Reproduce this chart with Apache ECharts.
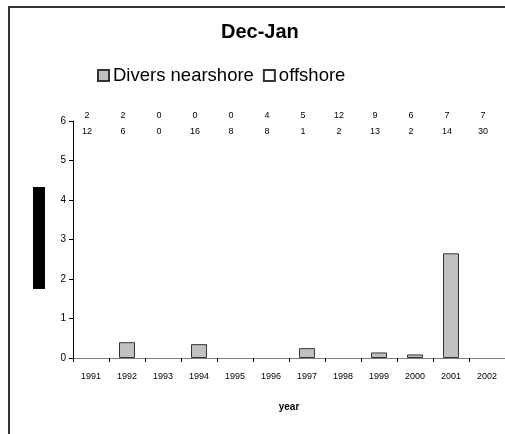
<!DOCTYPE html>
<html>
<head>
<meta charset="utf-8">
<script src="https://cdn.jsdelivr.net/npm/echarts@6/dist/echarts.min.js"></script>
<style>
html,body{margin:0;padding:0;background:#fff;}
#chart{width:505px;height:434px;}
</style>
</head>
<body>
<div id="chart"></div>
<script>
const years = ['1991','1992','1993','1994','1995','1996','1997','1998','1999','2000','2001','2002'];
const nearshore = [0, 0.40, 0, 0.35, 0, 0, 0.25, 0, 0.14, 0.09, 2.65, 0];
const offshore = [0, 0, 0, 0, 0, 0, 0, 0, 0, 0, 0, 0];
const countsRow1 = [2, 2, 0, 0, 0, 4, 5, 12, 9, 6, 7, 7];
const countsRow2 = [12, 6, 0, 16, 8, 8, 1, 2, 13, 2, 14, 30];
const yTicks = [0, 1, 2, 3, 4, 5, 6];

// zero-height bars are not drawn in the reference
const hideZero = arr => arr.map(v => (v === 0 ? '-' : v));

const FONT = '"Liberation Sans", Arial, sans-serif';
const chart = echarts.init(document.getElementById('chart'), null, {renderer: 'canvas'});

chart.setOption({
  animation: false,
  backgroundColor: '#fff',
  textStyle: {fontFamily: FONT, color: '#000'},
  title: {
    text: 'Dec-Jan',
    left: 221, top: 22, padding: 0,
    textStyle: {fontFamily: FONT, fontSize: 20, fontWeight: 'bold', color: '#000'}
  },
  legend: {
    left: 97, top: 66, padding: 0,
    itemWidth: 11, itemHeight: 11, itemGap: 9,
    icon: 'rect',
    textStyle: {fontFamily: FONT, fontSize: 18.5, color: '#000', padding: [0, 0, 0, -1]},
    data: ['Divers nearshore', 'offshore']
  },
  graphic: [
    {type: 'rect', shape: {x: 9, y: 7, width: 700, height: 700},
     style: {fill: 'none', stroke: '#333', lineWidth: 2}, silent: true},
    {type: 'rect', shape: {x: 33, y: 187, width: 12, height: 102},
     style: {fill: '#000'}, silent: true}
  ],
  grid: {left: 73, top: 121, width: 436, height: 237, containLabel: false},
  xAxis: [
    {
      type: 'category', data: years, position: 'bottom',
      boundaryGap: true,
      axisLine: {lineStyle: {color: '#808080', width: 1}},
      axisTick: {show: true, length: 4, inside: false, alignWithLabel: false, lineStyle: {color: '#000'}},
      axisLabel: {fontFamily: FONT, fontSize: 9, color: '#000', margin: 14, interval: 0},
      name: 'year', nameLocation: 'middle', nameGap: 44,
      nameTextStyle: {fontFamily: FONT, fontSize: 10, fontWeight: 'bold', color: '#000'}
    },
    {
      type: 'category', data: years, position: 'top', offset: -19,
      axisLine: {show: false}, axisTick: {show: false},
      axisLabel: {
        interval: 0, margin: 0,
        fontFamily: FONT, fontSize: 9, color: '#000', lineHeight: 16,
        formatter: function (v, i) { return countsRow1[i] + '\n' + countsRow2[i]; },
        padding: [0, 8, 0, 0]
      }
    }
  ],
  yAxis: {
    type: 'value', min: yTicks[0], max: yTicks[yTicks.length - 1], interval: 1,
    splitLine: {show: false},
    axisLine: {show: true, lineStyle: {color: '#000', width: 1}},
    axisTick: {show: true, length: 4, lineStyle: {color: '#000'}},
    axisLabel: {fontFamily: FONT, fontSize: 10, color: '#000', margin: 7}
  },
  series: [
    {
      name: 'Divers nearshore', type: 'bar', data: hideZero(nearshore), stack: 'a',
      barWidth: 16,
      itemStyle: {color: '#c0c0c0', borderColor: '#333', borderWidth: 1}
    },
    {
      name: 'offshore', type: 'bar', data: hideZero(offshore), stack: 'a',
      barWidth: 16,
      itemStyle: {color: '#fff', borderColor: '#333', borderWidth: 1}
    }
  ]
});
</script>
</body>
</html>
